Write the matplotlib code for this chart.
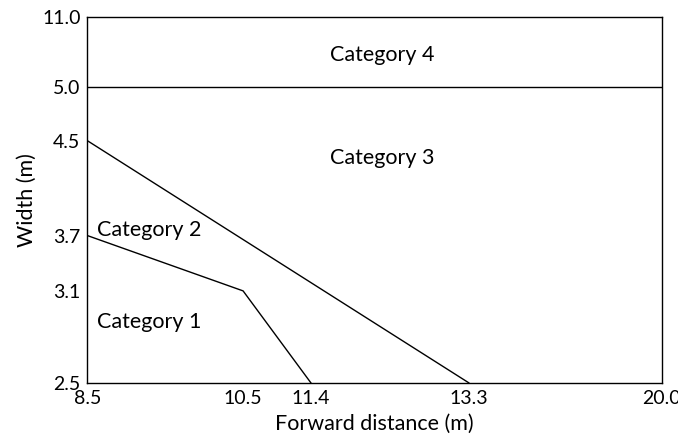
"""
分类区域图：前向距离 vs 宽度（非均匀坐标轴）
"""

import numpy as np
import matplotlib
matplotlib.use("Agg")
import matplotlib.pyplot as plt

# ========== 数据 ==========
x_ticks = [8.5, 10.5, 11.4, 13.3, 20.0]
y_ticks = [2.5, 3.1, 3.7, 4.5, 5.0, 11.0]

# 边界线
cat12_x = [8.5, 10.5, 11.4]
cat12_y = [3.7, 3.1, 2.5]
cat23_x = [8.5, 13.3]
cat23_y = [4.5, 2.5]
cat34_x = [8.5, 20.0]
cat34_y = [5.0, 5.0]

labels = ["Category 1", "Category 2", "Category 3", "Category 4"]

# 坐标轴刻度在图上的相对位置（非线性轴）
x_pos = [0.0, 0.271, 0.389, 0.664, 1.0]
y_pos = [0.0, 0.251, 0.402, 0.661, 0.809, 1.0]


def make_scale(knots, pos):
    fwd = lambda v: np.interp(v, knots, pos)
    inv = lambda v: np.interp(v, pos, knots)
    return fwd, inv


plt.rcParams["font.family"] = ["Lato", "DejaVu Sans"]

fig = plt.figure(figsize=(6.78, 4.37), dpi=100)
ax = fig.add_axes([0.129, 0.124, 0.847, 0.838])

ax.set_xscale("function", functions=make_scale(x_ticks, x_pos))
ax.set_yscale("function", functions=make_scale(y_ticks, y_pos))

ax.plot(cat12_x, cat12_y, color="black", lw=1)
ax.plot(cat23_x, cat23_y, color="black", lw=1)
ax.plot(cat34_x, cat34_y, color="black", lw=1)

ax.set_xlim(x_ticks[0], x_ticks[-1])
ax.set_ylim(y_ticks[0], y_ticks[-1])
ax.set_xticks(x_ticks)
ax.set_xticklabels([f"{v:.1f}" for v in x_ticks])
ax.set_yticks(y_ticks)
ax.set_yticklabels([f"{v:.1f}" for v in y_ticks])
ax.minorticks_off()
ax.tick_params(axis="x", length=0, labelsize=14, pad=5)
ax.tick_params(axis="y", length=0, labelsize=14, pad=5)

for s in ax.spines.values():
    s.set_linewidth(1)

ax.set_xlabel("Forward distance (m)", fontsize=15.5, labelpad=5)
ax.set_ylabel("Width (m)", fontsize=15.5, labelpad=4)

fs = 15.5
ax.text(0.017, 0.167, labels[0], transform=ax.transAxes, fontsize=fs, va="center", ha="left")
ax.text(0.017, 0.418, labels[1], transform=ax.transAxes, fontsize=fs, va="center", ha="left")
ax.text(0.514, 0.615, labels[2], transform=ax.transAxes, fontsize=fs, va="center", ha="center")
ax.text(0.514, 0.896, labels[3], transform=ax.transAxes, fontsize=fs, va="center", ha="center")

fig.savefig("out.png", dpi=100)
